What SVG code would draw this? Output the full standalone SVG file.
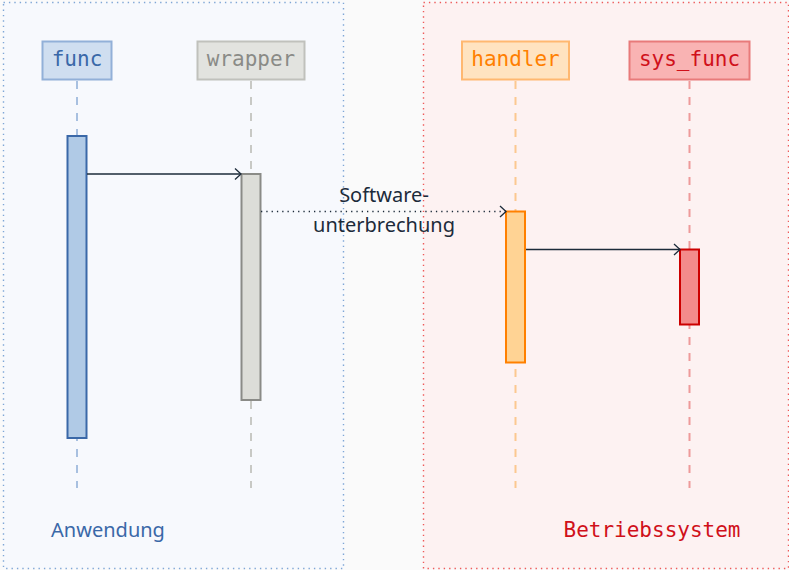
<svg xmlns="http://www.w3.org/2000/svg" width="789" height="570" viewBox="0 0 789 570">
  <style>
    .grp { stroke-width: 1.4; stroke-dasharray: 1.4 4; }
    .lbl { font-family: "DejaVu Sans Mono", "Liberation Mono", monospace; font-size: 21px; text-anchor: middle; }
    .life { stroke-width: 2; stroke-dasharray: 8 8; fill: none; }
    .bar { stroke-width: 2; }
    .msg { stroke: #1c2b3a; stroke-width: 1.3; fill: none; }
    .note { font-family: "Noto Sans", "Open Sans", sans-serif; font-size: 20px; fill: #1c2b3a; text-anchor: middle; }
  </style>
  <defs>
    <marker id="open" markerWidth="12" markerHeight="14" refX="9" refY="7" orient="auto" markerUnits="userSpaceOnUse">
      <path d="M3,1.5 L9,7 L3,12.5" fill="none" stroke="#1c2b3a" stroke-width="1.3"/>
    </marker>
  </defs>

  <rect x="0" y="0" width="789" height="570" fill="#fafafa"/>

  <!-- group frames -->
  <g id="anwendung">
    <rect class="grp" x="3.5" y="2.5" width="340" height="566" fill="#f7f9fd" stroke="#7fa6d6"/>
    <text x="108" y="537" font-family="Noto Sans, Open Sans, sans-serif" font-size="20" fill="#3a68a8" text-anchor="middle">Anwendung</text>
  </g>
  <g id="betriebssystem">
    <rect class="grp" x="423.5" y="2.5" width="365" height="566" fill="#fdf2f2" stroke="#ee5a5a"/>
    <text x="652" y="537" class="lbl" fill="#d0101a">Betriebssystem</text>
  </g>

  <!-- participants -->
  <g id="func">
    <line class="life" x1="77" y1="81" x2="77" y2="488" stroke="#a8c0e0"/>
    <rect x="42.5" y="41.5" width="69" height="38" fill="#cfdef0" stroke="#92b0d8" stroke-width="2"/>
    <text class="lbl" x="77" y="66" fill="#3a68a8">func</text>
    <rect class="bar" x="67.5" y="136" width="19" height="302" fill="#b0cae6" stroke="#3a68a8"/>
  </g>
  <g id="wrapper">
    <line class="life" x1="251" y1="81" x2="251" y2="488" stroke="#c8c9c5"/>
    <rect x="197.5" y="41.5" width="107" height="38" fill="#e2e3df" stroke="#c0c1bc" stroke-width="2"/>
    <text class="lbl" x="251" y="66" fill="#8a8b87">wrapper</text>
    <rect class="bar" x="241.5" y="174" width="19" height="226" fill="#dcddd8" stroke="#8a8b87"/>
  </g>
  <g id="handler">
    <line class="life" x1="515.5" y1="81" x2="515.5" y2="488" stroke="#fcc890"/>
    <rect x="462" y="41.5" width="107" height="38" fill="#ffe3c0" stroke="#ffb870" stroke-width="2"/>
    <text class="lbl" x="515.5" y="66" fill="#ff7f00">handler</text>
    <rect class="bar" x="506" y="211.5" width="19" height="151" fill="#ffd394" stroke="#ff8000"/>
  </g>
  <g id="sys_func">
    <line class="life" x1="689.5" y1="81" x2="689.5" y2="488" stroke="#ee9a9a"/>
    <rect x="629.5" y="41.5" width="120" height="38" fill="#f9b3b3" stroke="#e87a7a" stroke-width="2"/>
    <text class="lbl" x="689.5" y="66" fill="#d0101a">sys_func</text>
    <rect class="bar" x="680" y="249.5" width="19" height="75" fill="#f38b8b" stroke="#cc0000"/>
  </g>

  <!-- messages -->
  <g id="connectors">
    <line class="msg" x1="87" y1="174" x2="241" y2="174" marker-end="url(#open)"/>
    <line class="msg" x1="261" y1="211.5" x2="506" y2="211.5" stroke-dasharray="1.3 4" marker-end="url(#open)"/>
    <line class="msg" x1="526" y1="249.5" x2="680" y2="249.5" marker-end="url(#open)"/>
    <text class="note" x="384" y="202">Software-</text>
    <text class="note" x="384" y="232">unterbrechung</text>
  </g>
</svg>
